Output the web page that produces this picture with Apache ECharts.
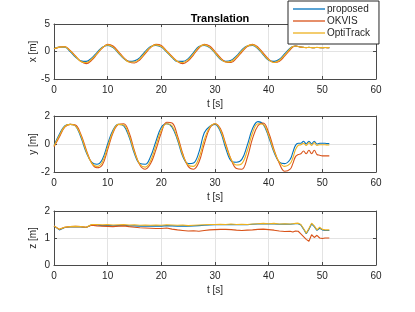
<!DOCTYPE html>
<html><head><meta charset="utf-8">
<script src="https://cdn.jsdelivr.net/npm/echarts@6/dist/echarts.min.js"></script>
<style>html,body{margin:0;padding:0;background:#fff}#c{width:415px;height:312px}</style>
</head><body><div id="c"></div>
<script>
// time samples [s]
var T = [0,1,2,3,4,5,6,7,8,9,10,11,12,13,14,15,16,17,18,19,20,21,22,23,24,25,26,27,28,29,30,31,32,33,34,35,36,37,38,39,40,41,42,43,44,44.5,45,45.5,46,46.5,47,47.5,48,48.5,49,49.5,50,50.5,51,51.3];

var seriesNames = ['proposed', 'OKVIS', 'OptiTrack'];

// x [m]
var xProposed = [0.5,0.8,0.8,0.0,-1.0,-1.7,-1.8,-1.2,-0.2,0.8,1.1,0.7,-0.3,-1.3,-1.8,-1.7,-1.1,0.0,0.9,1.1,0.8,-0.1,-1.1,-1.8,-1.8,-1.3,-0.2,0.9,1.1,0.7,-0.3,-1.4,-1.8,-1.6,-0.8,0.3,1.0,1.1,0.5,-0.6,-1.6,-1.8,-1.4,-0.4,0.6,0.9,1.0,0.9,0.8,0.75,0.72,0.75,0.72,0.7,0.74,0.72,0.7,0.72,0.71,0.71];
var xOKVIS = [0.5,0.8,0.9,0.2,-0.8,-1.8,-2.2,-1.6,-0.5,0.6,1.3,1.0,0.0,-1.1,-1.9,-2.1,-1.5,-0.4,0.7,1.3,1.1,0.1,-0.9,-1.8,-2.2,-1.7,-0.6,0.6,1.3,1.0,0.0,-1.1,-1.9,-2.0,-1.2,-0.1,0.9,1.3,0.8,-0.3,-1.4,-2.0,-1.8,-0.8,0.3,0.8,1.0,0.9,0.8,0.74,0.7,0.74,0.7,0.7,0.73,0.7,0.7,0.72,0.7,0.7];
var xOptiTrack = [0.5,0.8,0.85,0.1,-0.9,-1.8,-2.0,-1.4,-0.4,0.7,1.2,0.8,-0.2,-1.2,-1.9,-1.9,-1.3,-0.2,0.8,1.2,0.9,0.0,-1.0,-1.8,-2.0,-1.5,-0.4,0.8,1.2,0.8,-0.2,-1.3,-1.9,-1.8,-1.0,0.1,1.0,1.2,0.6,-0.5,-1.5,-2.0,-1.6,-0.6,0.5,0.9,1.0,0.9,0.8,0.75,0.7,0.75,0.7,0.7,0.75,0.7,0.7,0.72,0.7,0.7];

// y [m]
var yProposed = [-0.1,0.7,1.3,1.4,1.3,0.5,-0.6,-1.3,-1.45,-1.1,0.0,1.0,1.4,1.3,0.5,-0.7,-1.4,-1.45,-0.9,0.2,1.2,1.45,1.2,0.3,-0.9,-1.4,-1.35,-0.6,0.8,1.25,1.4,0.9,-0.3,-1.2,-1.3,-1.1,-0.1,1.1,1.6,1.4,0.5,-0.6,-1.3,-1.4,-1.1,-0.6,-0.1,0.05,0.05,0.2,0.0,0.2,0.0,0.2,0.0,0.05,0.05,0.05,0.03,0.03];
var yOKVIS = [-0.2,0.5,1.2,1.4,1.35,0.7,-0.4,-1.35,-1.7,-1.5,-0.4,0.8,1.4,1.45,0.8,-0.5,-1.5,-1.8,-1.4,-0.4,0.8,1.55,1.5,0.6,-0.7,-1.6,-1.8,-1.3,0.0,1.1,1.45,1.1,0.0,-1.1,-1.75,-1.8,-1.0,0.4,1.3,1.5,0.8,-0.4,-1.4,-1.95,-1.8,-1.4,-0.9,-0.75,-0.7,-0.5,-0.7,-0.45,-0.7,-0.45,-0.75,-0.8,-0.85,-0.85,-0.85,-0.85];
var yOptiTrack = [-0.15,0.6,1.25,1.4,1.3,0.6,-0.5,-1.35,-1.6,-1.3,-0.2,0.9,1.4,1.35,0.6,-0.6,-1.45,-1.65,-1.2,-0.1,1.0,1.45,1.3,0.4,-0.8,-1.5,-1.6,-1.0,0.3,1.2,1.45,1.0,-0.1,-1.1,-1.5,-1.4,-0.5,0.8,1.45,1.4,0.6,-0.5,-1.3,-1.6,-1.4,-1.0,-0.4,-0.1,-0.05,0.05,-0.1,0.1,-0.1,0.1,-0.1,-0.05,-0.05,-0.05,-0.07,-0.07];

// z [m]
var zProposed = [1.45,1.3,1.39,1.41,1.42,1.41,1.39,1.49,1.48,1.46,1.46,1.45,1.46,1.47,1.45,1.45,1.44,1.44,1.44,1.45,1.44,1.46,1.45,1.44,1.45,1.44,1.45,1.46,1.47,1.48,1.49,1.5,1.49,1.5,1.49,1.5,1.49,1.51,1.52,1.53,1.52,1.52,1.51,1.52,1.51,1.52,1.53,1.53,1.48,1.33,1.16,1.32,1.52,1.42,1.28,1.36,1.3,1.28,1.28,1.28];
var zOKVIS = [1.45,1.32,1.4,1.42,1.43,1.42,1.4,1.47,1.45,1.44,1.43,1.42,1.44,1.45,1.42,1.4,1.38,1.37,1.36,1.35,1.35,1.37,1.33,1.3,1.28,1.26,1.27,1.25,1.28,1.3,1.31,1.32,1.32,1.31,1.29,1.28,1.29,1.3,1.32,1.33,1.31,1.29,1.26,1.24,1.25,1.22,1.26,1.25,1.15,1.05,0.95,0.88,1.12,1.02,1.1,1.0,0.98,1.0,1.0,1.0];
var zOptiTrack = [1.45,1.32,1.4,1.42,1.43,1.42,1.4,1.5,1.5,1.49,1.5,1.48,1.49,1.5,1.48,1.49,1.47,1.48,1.47,1.48,1.47,1.49,1.48,1.47,1.48,1.46,1.47,1.48,1.49,1.5,1.5,1.51,1.5,1.52,1.5,1.51,1.5,1.52,1.53,1.54,1.53,1.54,1.52,1.53,1.52,1.53,1.54,1.55,1.5,1.35,1.18,1.35,1.55,1.45,1.3,1.4,1.32,1.3,1.3,1.3];

var xTicks = [0, 60, 10];
var panels = [
  {name: 'x [m]', min: -5, max: 5, interval: 5, data: [xProposed, xOKVIS, xOptiTrack], smooth: 0.4},
  {name: 'y [m]', min: -2, max: 2, interval: 2, data: [yProposed, yOKVIS, yOptiTrack], smooth: 0.4},
  {name: 'z [m]', min: 0, max: 2, interval: 1, data: [zProposed, zOKVIS, zOptiTrack], smooth: false}
];
var colors = ['#0072BD', '#D95319', '#EDB120'];
var gridPos = [{top: 24, height: 55}, {top: 116, height: 56}, {top: 211, height: 54}];

var FONT = '"Liberation Sans", Arial, sans-serif';
var axisCol = '#4a4a4a';
var txtCol = '#262626';

function pairs(vals) { return T.map(function (t, i) { return [t, vals[i]]; }); }

var grid = [], xAxis = [], yAxis = [], series = [];
panels.forEach(function (p, k) {
  grid.push({left: 54, right: 39, top: gridPos[k].top, height: gridPos[k].height, show: false});
  xAxis.push({
    type: 'value', gridIndex: k, min: xTicks[0], max: xTicks[1], interval: xTicks[2], position: 'bottom',
    name: 't [s]', nameLocation: 'middle', nameGap: 20,
    nameTextStyle: {fontFamily: FONT, fontSize: 10, color: txtCol},
    axisLine: {show: true, onZero: false, lineStyle: {color: axisCol, width: 1}},
    axisTick: {show: true, inside: true, length: 3, lineStyle: {color: axisCol}},
    axisLabel: {fontFamily: FONT, fontSize: 10, color: txtCol, margin: 6},
    splitLine: {show: true, lineStyle: {color: '#e3e3e3', width: 1}}
  });
  xAxis.push({
    type: 'value', gridIndex: k, min: xTicks[0], max: xTicks[1], interval: xTicks[2], position: 'top',
    axisLine: {show: true, onZero: false, lineStyle: {color: axisCol, width: 1}},
    axisTick: {show: true, inside: true, length: 3, lineStyle: {color: axisCol}},
    axisLabel: {show: false}, splitLine: {show: false}
  });
  yAxis.push({
    type: 'value', gridIndex: k, min: p.min, max: p.max, interval: p.interval, position: 'left',
    name: p.name, nameLocation: 'middle', nameGap: 16, nameMoveOverlap: false,
    nameTextStyle: {fontFamily: FONT, fontSize: 10, color: txtCol},
    axisLine: {show: true, onZero: false, lineStyle: {color: axisCol, width: 1}},
    axisTick: {show: true, inside: true, length: 3, lineStyle: {color: axisCol}},
    axisLabel: {fontFamily: FONT, fontSize: 10, color: txtCol, margin: 4},
    splitLine: {show: true, lineStyle: {color: '#e3e3e3', width: 1}}
  });
  yAxis.push({
    type: 'value', gridIndex: k, min: p.min, max: p.max, interval: p.interval, position: 'right',
    axisLine: {show: true, onZero: false, lineStyle: {color: axisCol, width: 1}},
    axisTick: {show: true, inside: true, length: 3, lineStyle: {color: axisCol}},
    axisLabel: {show: false}, splitLine: {show: false}
  });
  p.data.forEach(function (vals, j) {
    series.push({
      type: 'line', name: seriesNames[j], xAxisIndex: 2 * k, yAxisIndex: 2 * k,
      data: pairs(vals), showSymbol: false, smooth: p.smooth,
      lineStyle: {color: colors[j], width: 1.1}, itemStyle: {color: colors[j]},
      z: 2 + j
    });
  });
});

var chart = echarts.init(document.getElementById('c'), null, {renderer: 'canvas'});
chart.setOption({
  animation: false,
  backgroundColor: '#ffffff',
  color: colors,
  title: {text: 'Translation', left: 215, top: 8, textAlign: 'center',
    textStyle: {fontFamily: FONT, fontSize: 11, fontWeight: 'bold', color: '#000'}},
  legend: {
    data: seriesNames, orient: 'vertical', left: 288, top: 1,
    icon: 'rect', itemWidth: 32, itemHeight: 1.3, itemGap: 0,
    padding: [2, 9, 5, 5],
    backgroundColor: '#ffffff', borderColor: '#262626', borderWidth: 1,
    textStyle: {fontFamily: FONT, fontSize: 10, color: txtCol, lineHeight: 12, padding: [0, 0, 0, -3]}
  },
  grid: grid, xAxis: xAxis, yAxis: yAxis, series: series
});
</script></body></html>
